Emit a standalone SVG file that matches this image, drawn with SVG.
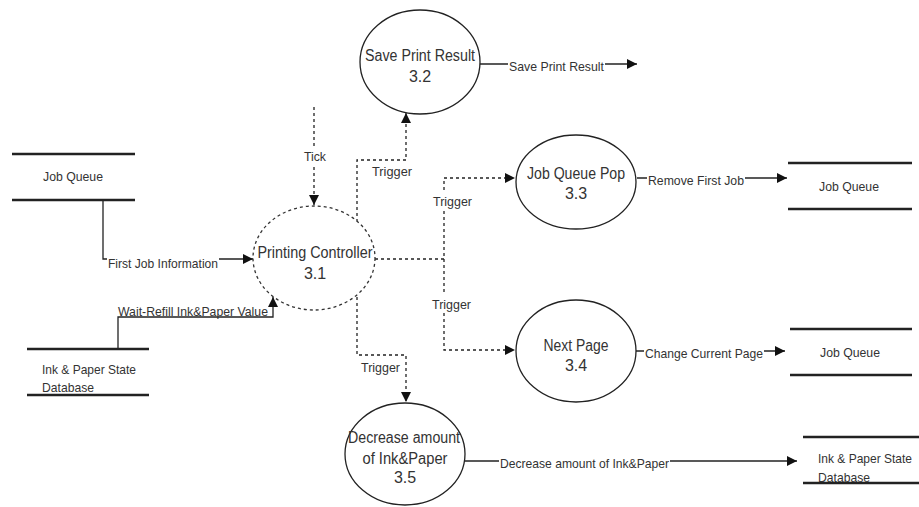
<svg xmlns="http://www.w3.org/2000/svg" width="919" height="507" viewBox="0 0 919 507">
  <style>
    text { font-family: "Liberation Sans", Arial, sans-serif; fill: #333; }
    .node { font-size: 16px; text-anchor: middle; }
    .lbl { font-size: 13.5px; }
    .mid { text-anchor: middle; }
    .proc { fill: #fff; stroke: #222; stroke-width: 1.3; }
    .ctrl { fill: #fff; stroke: #333; stroke-width: 1.3; stroke-dasharray: 3 3; }
    .store { stroke: #222; stroke-width: 2.5; }
    .flow { fill: none; stroke: #222; stroke-width: 1.3; }
    .trig { fill: none; stroke: #222; stroke-width: 1.3; stroke-dasharray: 3 3; }
    .bg { fill: #fff; }
  </style>
  <defs>
    <marker id="arrow" markerUnits="userSpaceOnUse" markerWidth="12" markerHeight="10" refX="10" refY="5" orient="auto">
      <path d="M0,0 L10,5 L0,10 Z" fill="#111"/>
    </marker>
  </defs>

  <rect width="919" height="507" fill="#fff"/>

  <!-- connectors -->
  <g id="connectors">
    <!-- tick into the controller -->
    <path class="trig" d="M314,107 V205" marker-end="url(#arrow)"/>
    <rect class="bg" x="302" y="147" width="25" height="17"/>
    <text class="lbl" x="304" y="161" textLength="22" lengthAdjust="spacingAndGlyphs">Tick</text>

    <!-- data in from the job queue -->
    <path class="flow" d="M103,200 V259 H253" marker-end="url(#arrow)"/>
    <rect class="bg" x="107" y="253" width="112" height="17"/>
    <text class="lbl" x="108" y="268" textLength="110" lengthAdjust="spacingAndGlyphs">First Job Information</text>

    <!-- refill value from the ink & paper store -->
    <path class="flow" d="M118,349 V317 H273 V297" marker-end="url(#arrow)"/>
    <text class="lbl" x="118" y="316" textLength="150" lengthAdjust="spacingAndGlyphs">Wait-Refill Ink&amp;Paper Value</text>

    <!-- triggers out of the controller -->
    <path class="trig" d="M357,222 V160 H406 V113" marker-end="url(#arrow)"/>
    <text class="lbl" x="372" y="176" textLength="40" lengthAdjust="spacingAndGlyphs">Trigger</text>

    <path class="trig" d="M375,259 H444 V178 H515" marker-end="url(#arrow)"/>
    <rect class="bg" x="431" y="192" width="43" height="17"/>
    <text class="lbl" x="433" y="206" textLength="39" lengthAdjust="spacingAndGlyphs">Trigger</text>

    <path class="trig" d="M444,259 V350 H515" marker-end="url(#arrow)"/>
    <rect class="bg" x="430" y="295" width="43" height="17"/>
    <text class="lbl" x="432" y="309" textLength="39" lengthAdjust="spacingAndGlyphs">Trigger</text>

    <path class="trig" d="M357,297 V355 H406 V402" marker-end="url(#arrow)"/>
    <text class="lbl" x="361" y="372" textLength="39" lengthAdjust="spacingAndGlyphs">Trigger</text>

    <!-- process outputs -->
    <path class="flow" d="M480,64 H637" marker-end="url(#arrow)"/>
    <rect class="bg" x="508" y="57" width="97" height="17"/>
    <text class="lbl" x="509" y="71" textLength="95" lengthAdjust="spacingAndGlyphs">Save Print Result</text>

    <path class="flow" d="M637,178 H787" marker-end="url(#arrow)"/>
    <rect class="bg" x="647" y="171" width="98" height="17"/>
    <text class="lbl" x="648" y="185" textLength="96" lengthAdjust="spacingAndGlyphs">Remove First Job</text>

    <path class="flow" d="M635,351 H785" marker-end="url(#arrow)"/>
    <rect class="bg" x="644" y="344" width="120" height="17"/>
    <text class="lbl" x="645" y="358" textLength="118" lengthAdjust="spacingAndGlyphs">Change Current Page</text>

    <path class="flow" d="M465,461 H797" marker-end="url(#arrow)"/>
    <rect class="bg" x="499" y="454" width="171" height="17"/>
    <text class="lbl" x="500" y="468" textLength="169" lengthAdjust="spacingAndGlyphs">Decrease amount of Ink&amp;Paper</text>
  </g>

  <!-- controller process -->
  <g id="printing-controller">
    <ellipse class="ctrl" cx="314" cy="258" rx="61" ry="52"/>
    <text class="node" x="315" y="258" textLength="115" lengthAdjust="spacingAndGlyphs">Printing Controller</text>
    <text class="node" x="315" y="279">3.1</text>
  </g>

  <g id="save-print-result">
    <ellipse class="proc" cx="420" cy="62" rx="60" ry="52"/>
    <text class="node" x="420" y="61" textLength="110" lengthAdjust="spacingAndGlyphs">Save Print Result</text>
    <text class="node" x="420" y="82">3.2</text>
  </g>

  <g id="job-queue-pop">
    <ellipse class="proc" cx="576" cy="182" rx="60" ry="47"/>
    <text class="node" x="576" y="179" textLength="98" lengthAdjust="spacingAndGlyphs">Job Queue Pop</text>
    <text class="node" x="576" y="199">3.3</text>
  </g>

  <g id="next-page">
    <ellipse class="proc" cx="576" cy="351" rx="60" ry="51"/>
    <text class="node" x="576" y="351" textLength="65" lengthAdjust="spacingAndGlyphs">Next Page</text>
    <text class="node" x="576" y="371">3.4</text>
  </g>

  <g id="decrease-amount">
    <ellipse class="proc" cx="405" cy="454" rx="60" ry="51"/>
    <text class="node" x="404" y="443" textLength="112" lengthAdjust="spacingAndGlyphs">Decrease amount</text>
    <text class="node" x="405" y="464" textLength="85" lengthAdjust="spacingAndGlyphs">of Ink&amp;Paper</text>
    <text class="node" x="405" y="483">3.5</text>
  </g>

  <!-- data stores -->
  <g id="store-job-queue-in">
    <line class="store" x1="12" y1="154" x2="135" y2="154"/>
    <line class="store" x1="12" y1="200" x2="135" y2="200"/>
    <text class="lbl" x="43" y="181" textLength="60" lengthAdjust="spacingAndGlyphs">Job Queue</text>
  </g>

  <g id="store-ink-paper-in">
    <line class="store" x1="27" y1="349" x2="149" y2="349"/>
    <line class="store" x1="27" y1="395" x2="149" y2="395"/>
    <text class="lbl" x="42" y="374" textLength="94" lengthAdjust="spacingAndGlyphs">Ink &amp; Paper State</text>
    <text class="lbl" x="42" y="392" textLength="52" lengthAdjust="spacingAndGlyphs">Database</text>
  </g>

  <g id="store-job-queue-pop">
    <line class="store" x1="788" y1="163" x2="912" y2="163"/>
    <line class="store" x1="788" y1="209" x2="912" y2="209"/>
    <text class="lbl" x="819" y="191" textLength="60" lengthAdjust="spacingAndGlyphs">Job Queue</text>
  </g>

  <g id="store-job-queue-page">
    <line class="store" x1="790" y1="329" x2="912" y2="329"/>
    <line class="store" x1="790" y1="375" x2="912" y2="375"/>
    <text class="lbl" x="820" y="357" textLength="60" lengthAdjust="spacingAndGlyphs">Job Queue</text>
  </g>

  <g id="store-ink-paper-out">
    <line class="store" x1="803" y1="437" x2="919" y2="437"/>
    <line class="store" x1="803" y1="483" x2="919" y2="483"/>
    <text class="lbl" x="818" y="463" textLength="94" lengthAdjust="spacingAndGlyphs">Ink &amp; Paper State</text>
    <text class="lbl" x="818" y="482" textLength="52" lengthAdjust="spacingAndGlyphs">Database</text>
  </g>
</svg>
